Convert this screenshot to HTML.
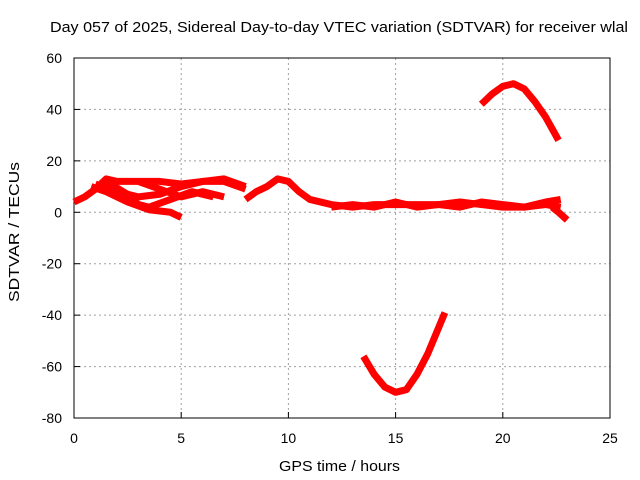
<!DOCTYPE html>
<html><head><meta charset="utf-8"><style>
body{margin:0;background:#fff}
svg{display:block;font-family:"Liberation Sans",sans-serif}
</style></head><body>
<svg id="chart" width="640" height="480"></svg>
<script>
const xTicks=[0,5,10,15,20,25];
const yTicks=[60,40,20,0,-20,-40,-60,-80];
const seriesA=[[0,4],[0.5,6],[1,9],[1.5,13],[2,12],[3,12],[4,12],[5,11],[6,12],[7,12],[8,9]];
const seriesB=[[0.8,10],[1.5,8],[2.5,4],[3.5,1],[4.5,0],[5,-2]];
const seriesC=[[1,11],[2,8],[3,6],[4,7],[5,10],[6,12],[7,13],[8,10]];
const seriesD=[[1.5,12],[2.5,7],[3,3],[3.5,2],[4.5,5],[5.5,8],[6.5,6]];
const seriesE=[[3,12],[4,9],[5,6],[6,8],[7,6]];
const seriesF=[[8,5],[8.5,8],[9,10],[9.5,13],[10,12],[10.5,8],[11,5],[12,3],[13,2],[14,3],[15,3],[16,3],[17,3],[18,4],[19,3],[20,2],[21,2],[22,4],[22.7,5]];
const seriesH=[[12,2],[13,3],[14,2],[15,4],[16,2],[17,3],[18,2],[19,4],[20,3],[21,2],[22,3],[22.7,2]];
const seriesG=[[22.3,2],[22.6,0],[23,-3]];
const seriesUp=[[19,42],[19.5,46],[20,49],[20.5,50],[21,48],[21.5,43],[22,37],[22.6,28]];
const seriesDown=[[13.5,-56],[14,-63],[14.5,-68],[15,-70],[15.5,-69],[16,-63],[16.5,-55],[17,-45],[17.3,-39]];
const allSeries=[seriesA,seriesB,seriesC,seriesD,seriesE,seriesF,seriesH,seriesG,seriesUp,seriesDown];
const L=74,R=610,T=58,B=418;
const xs=h=>L+h*(R-L)/25;
const ys=v=>T+(60-v)*(B-T)/140;
const svg=document.getElementById('chart');
const NS='http://www.w3.org/2000/svg';
function mk(tag,attrs,txt){const e=document.createElementNS(NS,tag);for(const k in attrs)e.setAttribute(k,attrs[k]);if(txt!==undefined)e.textContent=txt;svg.appendChild(e);return e;}
xTicks.forEach(t=>{
  if(t>0&&t<25){const g=mk('line',{x1:xs(t),x2:xs(t),y1:T,y2:B,stroke:'#a0a0a0','stroke-dasharray':'2,3'});
  
  }
  const tk=mk('line',{x1:xs(t),x2:xs(t),y1:B,y2:B-6,stroke:'#000'});
  
  
  const lb=mk('text',{x:xs(t),y:B+25,'text-anchor':'middle','font-size':14},String(t));
  
  
});
yTicks.forEach(t=>{
  if(t<60&&t>-80){const g=mk('line',{x1:L,x2:R,y1:ys(t),y2:ys(t),stroke:'#a0a0a0','stroke-dasharray':'2,3'});
  
  }
  const tk=mk('line',{x1:L,x2:L+6,y1:ys(t),y2:ys(t),stroke:'#000'});
  
  
  const lb=mk('text',{x:L-12,y:ys(t)+5,'text-anchor':'end','font-size':14},String(t));
  
  
});
const frame=mk('rect',{x:L,y:T,width:R-L,height:B-T,fill:'none',stroke:'#000'});


allSeries.forEach(s=>{
  const p=mk('polyline',{points:s.map(d=>xs(d[0])+','+ys(d[1])).join(' '),fill:'none',stroke:'#ff0000','stroke-width':7,'stroke-linejoin':'round'});
  
  
});
const title=mk('text',{x:50,y:32,'font-size':15,textLength:578,lengthAdjust:'spacingAndGlyphs'},'Day 057 of 2025, Sidereal Day-to-day VTEC variation (SDTVAR) for receiver wlal');


const xt=mk('text',{x:279,y:471,'font-size':15,textLength:121,lengthAdjust:'spacingAndGlyphs'},'GPS time / hours');


const yt=mk('text',{x:19,y:302,'font-size':15,textLength:140,lengthAdjust:'spacingAndGlyphs',transform:'rotate(-90 19 302)'},'SDTVAR / TECUs');


</script>
</body></html>
